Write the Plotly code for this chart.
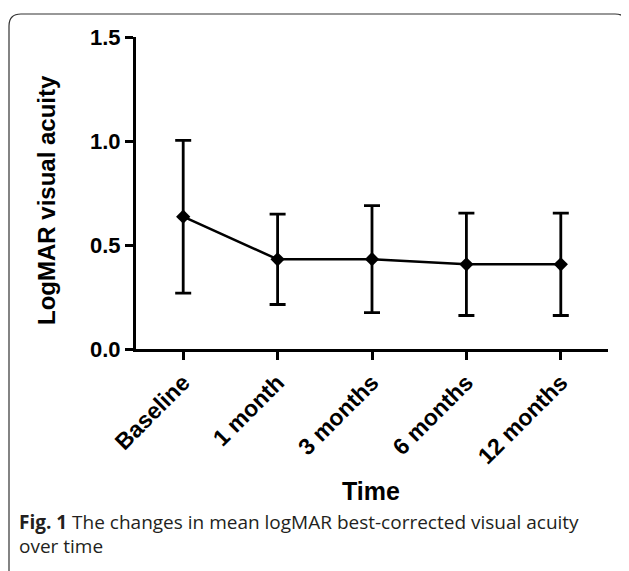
import plotly.graph_objects as go

# Data
categories = ["Baseline", "1 month", "3 months", "6 months", "12 months"]
mean_logmar = [0.636, 0.431, 0.432, 0.407, 0.407]
sd_logmar = [0.367, 0.217, 0.257, 0.246, 0.246]
y_ticks = [0.0, 0.5, 1.0, 1.5]
y_tick_labels = ["0.0", "0.5", "1.0", "1.5"]

# page offset of the plot div (body margin)
OFF = 8
W, H = 621, 563
L, R, T = 128, 21, 29
B = H - 341
PW, PH = W - L - R, H - T - B


def px(x):  # screen x -> paper
    return (x - OFF - L) / PW


def py(y):  # screen y -> paper
    return (H - B - (y - OFF)) / PH


fig = go.Figure()
fig.add_trace(go.Scatter(
    x=list(range(len(categories))),
    y=mean_logmar,
    mode="lines+markers",
    line=dict(color="black", width=2.5),
    marker=dict(symbol="diamond", size=11, color="black"),
    error_y=dict(type="data", array=sd_logmar, visible=True,
                 color="black", thickness=2.8, width=8),
    showlegend=False,
    cliponaxis=False,
))

# rounded frame
x0, x1, y0, y1, r = 9, 627, 14, 640, 12
path = (f"M {px(x0)},{py(y1)} L {px(x0)},{py(y0 + r)} "
        f"Q {px(x0)},{py(y0)} {px(x0 + r)},{py(y0)} "
        f"L {px(x1 - r)},{py(y0)} Q {px(x1)},{py(y0)} {px(x1)},{py(y0 + r)} "
        f"L {px(x1)},{py(y1)}")
fig.add_shape(type="path", path=path, xref="paper", yref="paper",
              line=dict(color="#333333", width=1.2), layer="below")

fig.add_annotation(text="LogMAR visual acuity", xref="paper", yref="paper",
                   x=px(47), y=py(200), textangle=-90, showarrow=False,
                   xanchor="center", yanchor="middle",
                   font=dict(family="Liberation Sans", size=24, color="black", weight="bold"))
fig.add_annotation(text="Time", xref="paper", yref="paper",
                   x=px(371), y=py(491), showarrow=False,
                   xanchor="center", yanchor="middle", borderpad=0,
                   font=dict(family="Liberation Sans", size=25, color="black", weight="bold"))
fig.add_annotation(text="<b>Fig. 1</b> The changes in mean logMAR best-corrected visual acuity",
                   xref="paper", yref="paper", x=px(18), y=py(522), showarrow=False,
                   xanchor="left", yanchor="middle", borderpad=0,
                   font=dict(family="Open Sans", size=19, color="#231f20"))
fig.add_annotation(text="over time",
                   xref="paper", yref="paper", x=px(18), y=py(546), showarrow=False,
                   xanchor="left", yanchor="middle", borderpad=0,
                   font=dict(family="Open Sans", size=19, color="#231f20"))

fig.update_layout(
    width=W, height=H,
    margin=dict(l=L, r=R, t=T, b=B),
    paper_bgcolor="white", plot_bgcolor="white",
    xaxis=dict(range=[-0.5, len(categories) - 0.5], tickvals=list(range(len(categories))),
               ticktext=categories, tickangle=-45, showline=True, linecolor="black",
               linewidth=3, ticks="outside", ticklen=8, tickwidth=3, tickcolor="black",
               showgrid=False, zeroline=False,
               tickfont=dict(family="Liberation Sans", size=23, color="black", weight="bold")),
    yaxis=dict(range=[0, 1.5], tickvals=y_ticks, ticktext=y_tick_labels,
               showline=True, linecolor="black", linewidth=3, ticks="outside",
               ticklen=8, tickwidth=3, tickcolor="black", showgrid=False, zeroline=False,
               tickfont=dict(family="Liberation Sans", size=22, color="black", weight="bold")),
)

fig.write_html("out.html")
